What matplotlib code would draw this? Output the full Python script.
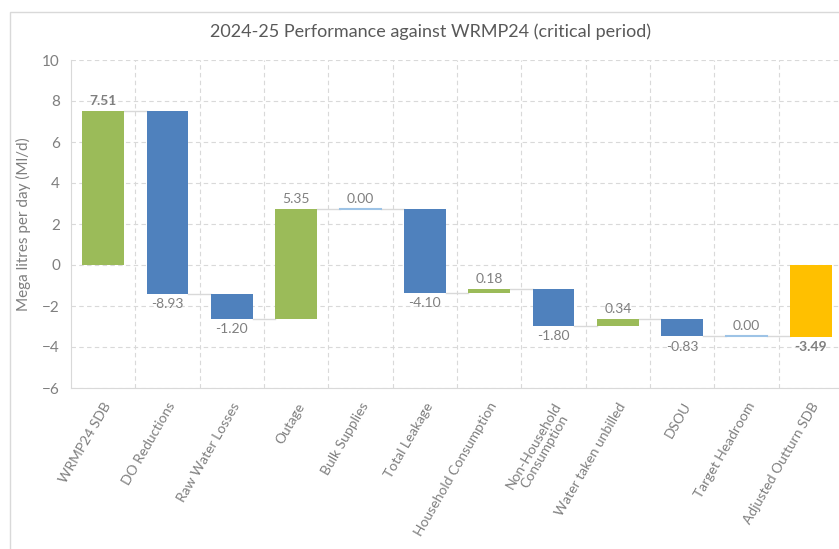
import numpy as np
import matplotlib.pyplot as plt
from matplotlib.patches import Rectangle

plt.rcParams['font.family'] = ['Lato', 'DejaVu Sans']

categories = ["WRMP24 SDB", "DO Reductions", "Raw Water Losses", "Outage", "Bulk Supplies",
              "Total Leakage", "Household Consumption", "Non-Household\nConsumption",
              "Water taken unbilled", "DSOU", "Target Headroom", "Adjusted Outturn SDB"]
changes = [7.51, -8.93, -1.20, 5.35, 0.00, -4.10, 0.18, -1.80, 0.34, -0.83, 0.00]
total = -3.49

green = "#9BBB59"
blue = "#4F81BD"
yellow = "#FFC000"
txt = "#7f7f7f"

changes = np.array(changes)
ends = np.cumsum(changes)
starts = ends - changes
starts = np.append(starts, 0.0)
ends = np.append(ends, total)
vals = np.append(changes, total)

fig = plt.figure(figsize=(8.39, 5.49), dpi=100)
fig.patches.append(Rectangle((10 / 839, -0.01), 1.0, 1 - 12 / 549 + 0.01, transform=fig.transFigure,
                             fill=False, edgecolor="#d9d9d9", linewidth=1))
ax = fig.add_axes([71 / 839, 161 / 549, 772 / 839, 328 / 549])

x = np.arange(len(categories))
w = 0.65
for i in x:
    lo, hi = min(starts[i], ends[i]), max(starts[i], ends[i])
    if i == 0:
        c = green
    elif i == len(categories) - 1:
        c = yellow
    elif vals[i] > 0:
        c = green
    elif vals[i] < 0:
        c = blue
    else:
        c = "#9DC3E6"
    if vals[i] == 0:
        ax.plot([i - w / 2, i + w / 2], [lo, lo], color=c, lw=1.5, zorder=3)
    else:
        ax.bar(i, hi - lo, bottom=lo, width=w, color=c, zorder=3)
    # label
    bold = i == 0 or i == len(categories) - 1
    if vals[i] >= 0:
        ax.annotate(f"{vals[i]:.2f}", (i, hi), xytext=(0, 3), textcoords="offset points",
                    ha="center", va="bottom", fontsize=10, color=txt,
                    fontweight="bold" if bold else "normal")
    else:
        ax.annotate(f"{vals[i]:.2f}", (i, lo), xytext=(0, -3), textcoords="offset points",
                    ha="center", va="top", fontsize=10, color=txt,
                    fontweight="bold" if bold else "normal")
    # connector
    if i < len(categories) - 1:
        ax.plot([i + w / 2, i + 1 - w / 2], [ends[i], ends[i]], color="#d9d9d9", lw=1, zorder=2)

ax.set_xlim(-0.5, len(categories) - 0.5)
ax.set_ylim(-6, 10)
ax.set_yticks(np.arange(-6, 11, 2))
ax.set_xticks(x)
ax.set_xticklabels(categories, rotation=60, ha="right", rotation_mode="anchor",
                   fontsize=10, color=txt, linespacing=1.0, multialignment="center")
ax.set_xticks(np.arange(0.5, len(categories) - 0.5, 1), minor=True)
ax.tick_params(axis="x", which="both", length=0, pad=9)
ax.tick_params(axis="y", length=0, labelsize=11, labelcolor=txt, pad=8)
ax.grid(True, axis="y", which="major", linestyle=(0, (4, 3)), color="#d9d9d9", lw=0.8, zorder=0)
ax.grid(True, axis="x", which="minor", linestyle=(0, (4, 3)), color="#d9d9d9", lw=0.8, zorder=0)
for s in ["top", "right"]:
    ax.spines[s].set_visible(False)
for s in ["left", "bottom"]:
    ax.spines[s].set_color("#d9d9d9")
ax.set_ylabel("Mega litres per day (Ml/d)", fontsize=11, color=txt, labelpad=8)
fig.text(430 / 839, 1 - 32 / 549, "2024-25 Performance against WRMP24 (critical period)",
         ha="center", va="center", fontsize=13, color="#595959")

fig.savefig("out.png", dpi=100)
